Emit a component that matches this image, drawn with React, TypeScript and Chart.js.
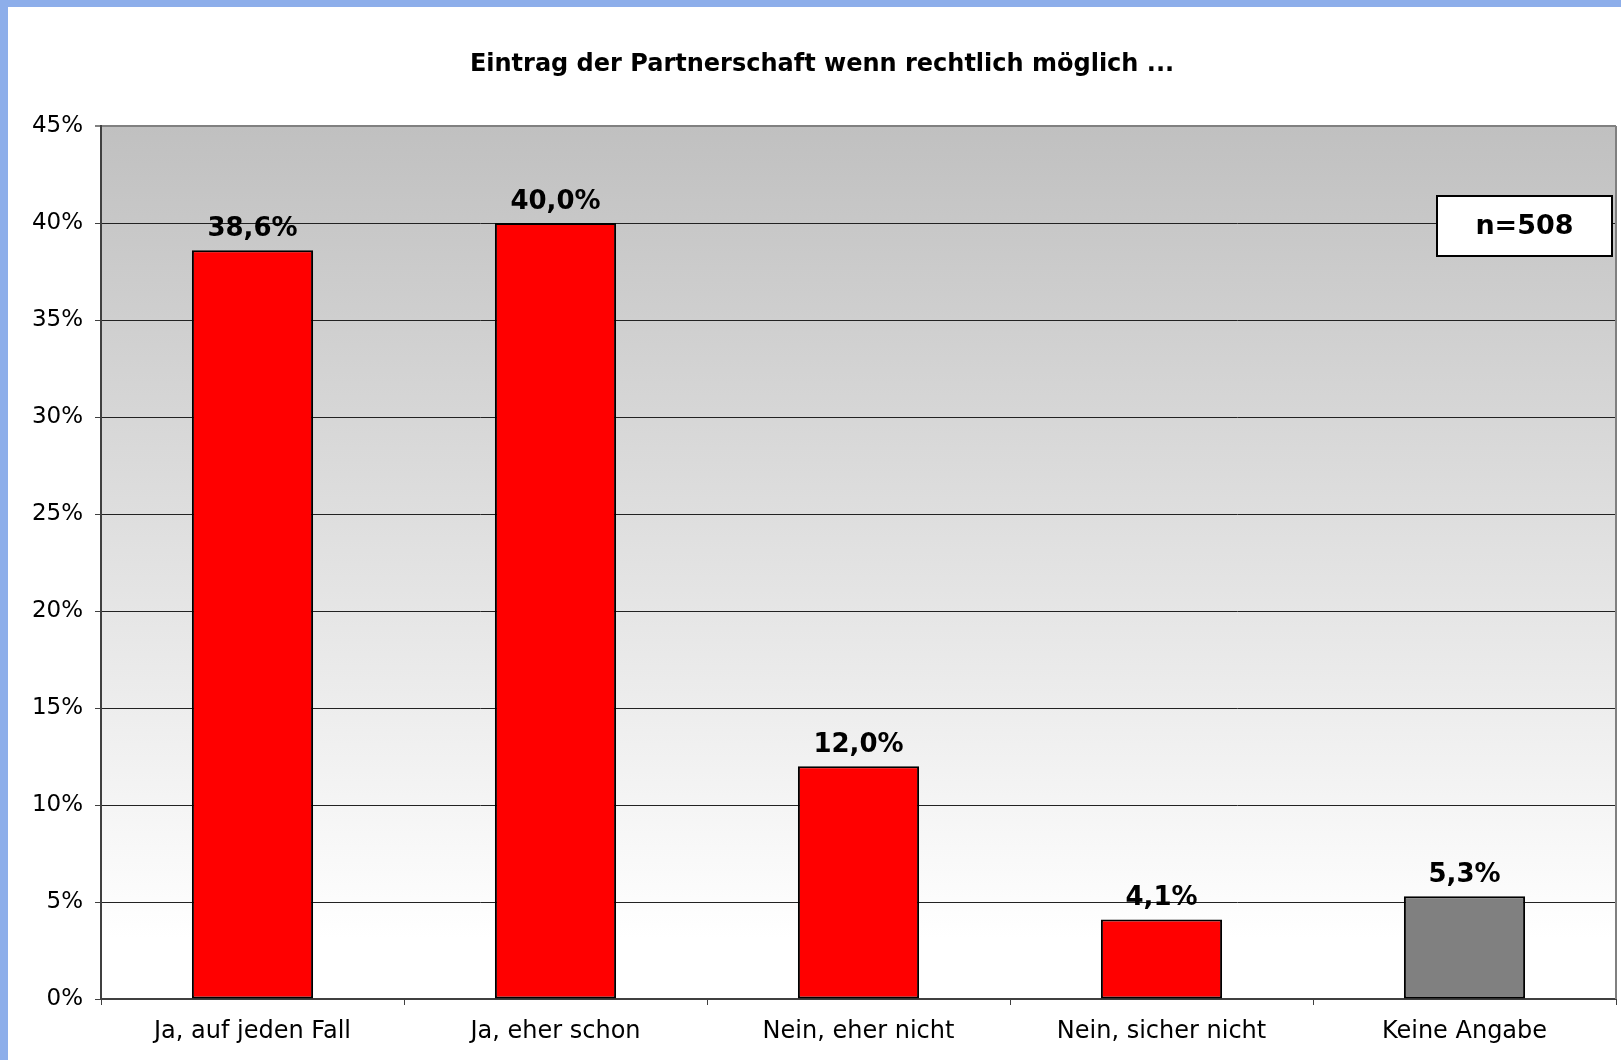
import React, { useEffect, useRef } from "react";
import { Chart, registerables } from "chart.js";

Chart.register(...registerables);

const TITLE = "Eintrag der Partnerschaft wenn rechtlich möglich ...";
const CATEGORIES = ["Ja, auf jeden Fall", "Ja, eher schon", "Nein, eher nicht", "Nein, sicher nicht", "Keine Angabe"];
const VALUES = [38.6, 40.0, 12.0, 4.1, 5.3];
const BAR_COLORS = ["#ff0000", "#ff0000", "#ff0000", "#ff0000", "#808080"];
const SAMPLE_NOTE = "n=508";
const Y_MAX = 45;
const Y_STEP = 5;

const FONT = '"DejaVu Sans", Verdana, sans-serif';
const BLUE = "#8daeea";

const fmt = (v: number) => v.toFixed(1).replace(".", ",") + "%";

const decorPlugin = {
  id: "decor",
  beforeDraw(chart: any) {
    const { ctx, chartArea: a, width, height } = chart;
    ctx.save();
    ctx.fillStyle = "#ffffff";
    ctx.fillRect(0, 0, width, height);
    ctx.fillStyle = BLUE;
    ctx.fillRect(0, 0, 8, height);
    ctx.fillRect(0, 0, width, 7);
    const g = ctx.createLinearGradient(0, a.top, 0, a.bottom);
    g.addColorStop(0, "#c0c0c0");
    g.addColorStop(0.93, "#ffffff");
    g.addColorStop(1, "#ffffff");
    ctx.fillStyle = g;
    ctx.fillRect(a.left, a.top, a.right - a.left, a.bottom - a.top);
    ctx.fillStyle = "#000";
    ctx.font = `bold 24px ${FONT}`;
    ctx.textAlign = "center";
    ctx.textBaseline = "middle";
    ctx.fillText(TITLE, 822, 65);
    ctx.restore();
  },
  afterDatasetsDraw(chart: any) {
    const { ctx } = chart;
    const meta = chart.getDatasetMeta(0);
    ctx.save();
    ctx.fillStyle = "#000";
    ctx.font = `bold 26px ${FONT}`;
    ctx.textAlign = "center";
    ctx.textBaseline = "alphabetic";
    meta.data.forEach((el: any, i: number) => {
      const v = chart.data.datasets[0].data[i];
      ctx.fillText(fmt(v), el.x, el.y - 14);
    });
    ctx.restore();
  },
  afterDraw(chart: any) {
    const { ctx, chartArea: a } = chart;
    ctx.save();
    ctx.strokeStyle = "#808080";
    ctx.lineWidth = 2;
    ctx.beginPath();
    ctx.moveTo(a.right, a.top);
    ctx.lineTo(a.right, a.bottom);
    ctx.stroke();
    // n box
    const bx = 1437, by = 196, bw = 175, bh = 60;
    ctx.fillStyle = "#ffffff";
    ctx.fillRect(bx, by, bw, bh);
    ctx.strokeStyle = "#000";
    ctx.lineWidth = 2;
    ctx.strokeRect(bx, by, bw, bh);
    ctx.fillStyle = "#000";
    ctx.font = `bold 27px ${FONT}`;
    ctx.textAlign = "center";
    ctx.textBaseline = "middle";
    ctx.fillText(SAMPLE_NOTE, bx + bw / 2, by + bh / 2 + 1);
    ctx.restore();
  },
};

export default function App() {
  const ref = useRef<HTMLCanvasElement | null>(null);
  useEffect(() => {
    if (!ref.current) return;
    Chart.defaults.font.family = FONT;
    Chart.defaults.color = "#000";
    const chart = new Chart(ref.current, {
      type: "bar",
      data: {
        labels: CATEGORIES,
        datasets: [
          {
            data: VALUES,
            backgroundColor: BAR_COLORS,
            borderColor: "#000",
            borderWidth: 2,
            borderSkipped: false,
            barPercentage: 0.4,
            categoryPercentage: 1,
          },
        ],
      },
      options: {
        responsive: false,
        animation: false,
        layout: { padding: { top: 126, right: 5, left: 0, bottom: 0 } },
        plugins: { legend: { display: false }, title: { display: false }, tooltip: { enabled: false } },
        scales: {
          x: {
            offset: true,
            grid: { drawOnChartArea: false, drawTicks: true, tickLength: 6, offset: true, color: "#404040", tickColor: "#404040" },
            border: { display: true, color: "#404040", width: 2 },
            ticks: { font: { size: 24, family: FONT }, color: "#000", padding: 12, maxRotation: 0 },
            afterFit: (s: any) => {
              s.height = 61;
            },
          },
          y: {
            min: 0,
            max: Y_MAX,
            ticks: {
              stepSize: Y_STEP,
              font: { size: 23, family: FONT },
              color: "#000",
              padding: 12,
              callback: (v: any) => `${v}%`,
            },
            grid: {
              color: (c: any) => (c.tick && c.tick.value === Y_MAX ? "#808080" : "#222222"),
              lineWidth: (c: any) => (c.tick && c.tick.value === Y_MAX ? 2 : 1),
              tickColor: (c: any) => (c.tick && c.tick.value === Y_MAX ? "#808080" : "#404040"),
              tickLength: 6,
            },
            border: { display: true, color: "#404040", width: 2 },
            afterFit: (s: any) => {
              s.width = 101;
            },
          },
        },
      },
      plugins: [decorPlugin],
    });
    return () => chart.destroy();
  }, []);
  return (
    <div style={{ position: "fixed", left: 0, top: 0, width: 1621, height: 1060, background: "#fff" }}>
      <canvas ref={ref} width={1621} height={1060} style={{ display: "block" }} />
    </div>
  );
}
